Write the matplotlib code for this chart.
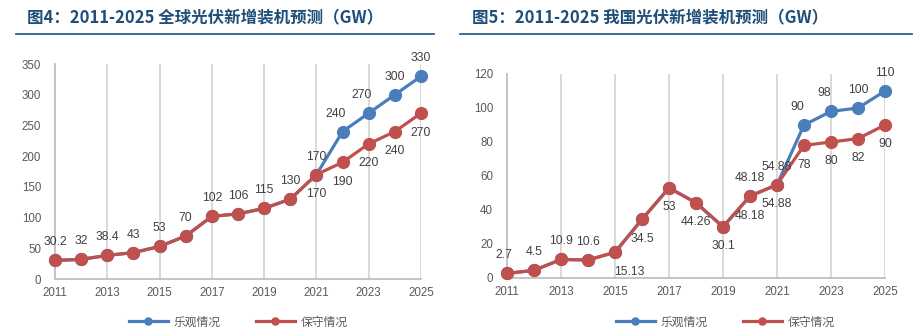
import matplotlib
matplotlib.use("Agg")
import matplotlib.pyplot as plt

plt.rcParams['font.family'] = ['Noto Sans CJK SC', 'DejaVu Sans']

years = list(range(2011, 2026))

# Global new PV installations (GW)
global_conservative = [30.2, 32, 38.4, 43, 53, 70, 102, 106, 115, 130, 170, 190, 220, 240, 270]
global_optimistic = [30.2, 32, 38.4, 43, 53, 70, 102, 106, 115, 130, 170, 240, 270, 300, 330]

# China new PV installations (GW)
china_conservative = [2.7, 4.5, 10.9, 10.6, 15.13, 34.5, 53, 44.26, 30.1, 48.18, 54.88, 78, 80, 82, 90]
china_optimistic = [2.7, 4.5, 10.9, 10.6, 15.13, 34.5, 53, 44.26, 30.1, 48.18, 54.88, 90, 98, 100, 110]

titles = ["图4：2011-2025 全球光伏新增装机预测（GW）",
          "图5：2011-2025 我国光伏新增装机预测（GW）"]
series_names = ["乐观情况", "保守情况"]
x_ticks = list(range(2011, 2026, 2))

BLUE = "#4a7ebb"
RED = "#c0504d"
GRID = "#d9d9d9"
TEXT = "#595959"
LABEL = "#404040"
TITLE = "#1f4e79"
NUM_FONT = "Liberation Sans"

fig = plt.figure(figsize=(9.21, 3.36), dpi=100)
W, H = 921, 336


def px_axes(x0, x1, y_top, y_bot):
    return fig.add_axes([x0 / W, 1 - y_bot / H, (x1 - x0) / W, (y_bot - y_top) / H])


def style_axes(ax, ymax, ystep):
    ax.set_xlim(2011, 2025)
    ax.set_ylim(0, ymax)
    ax.set_xticks(x_ticks)
    ax.set_yticks(range(0, ymax + 1, ystep))
    for g in x_ticks[1:]:
        ax.axvline(g, color=GRID, lw=1.4, zorder=0)
    for s in ["top", "right"]:
        ax.spines[s].set_visible(False)
    for s in ["left", "bottom"]:
        ax.spines[s].set_color("#bfbfbf")
        ax.spines[s].set_linewidth(1.3)
    ax.tick_params(length=0, labelsize=8.3, colors=TEXT, pad=6)
    for t in ax.get_xticklabels() + ax.get_yticklabels():
        t.set_fontfamily(NUM_FONT)
    ax.tick_params(axis="y", pad=10)
    ax.set_facecolor("none")


def fmt(v):
    return f"{v:g}"


def draw_series(ax, opt, con):
    lo, = ax.plot(years, opt, color=BLUE, lw=2.3, marker="o", ms=8.5, zorder=3,
                  clip_on=False, label=series_names[0])
    lc, = ax.plot(years, con, color=RED, lw=2.3, marker="o", ms=8.5, zorder=4,
                  clip_on=False, label=series_names[1])
    return lo, lc


def label(ax, x, y, text, dy, dx=0):
    ax.annotate(text, (x, y), xytext=(dx, dy), textcoords="offset points",
                ha="center", va="center", fontsize=8.7, color=LABEL,
                fontfamily=NUM_FONT, zorder=6)


def legend(ax, handles, x0):
    leg = fig.legend(handles, series_names, loc="center left",
                     bbox_to_anchor=(x0 / W, 1 - 322 / H), ncol=2, frameon=False,
                     fontsize=8.5, handlelength=3.3, columnspacing=3.0,
                     handletextpad=0.5, markerscale=0.6)
    for t in leg.get_texts():
        t.set_color(TEXT)


def header(x_text, x0, x1, text):
    fig.text(x_text / W, 1 - 18 / H, text, fontsize=11.9, fontweight="bold",
             color=TITLE, va="center", ha="left")
    fig.add_artist(plt.Line2D([x0 / W, x1 / W], [1 - 33.5 / H] * 2,
                              color="#2e5e9a", lw=1.3))


# ---- left panel: global ----
ax1 = px_axes(55, 421, 64, 279)
style_axes(ax1, 350, 50)
h1 = draw_series(ax1, global_optimistic, global_conservative)
for i, yr in enumerate(years):
    if yr <= 2020:
        label(ax1, yr, global_conservative[i], fmt(global_conservative[i]), 13)
    else:
        label(ax1, yr, global_conservative[i], fmt(global_conservative[i]), -14)
        label(ax1, yr, global_optimistic[i], fmt(global_optimistic[i]), 13, -5 if yr in (2022, 2023) else 0)
legend(ax1, h1, 118)
header(27, 16, 434, titles[0])

# ---- right panel: China ----
ax2 = px_axes(507, 885, 74, 278)
style_axes(ax2, 120, 20)
h2 = draw_series(ax2, china_optimistic, china_conservative)
for i, yr in enumerate(years):
    v = china_conservative[i]
    if yr <= 2014:
        label(ax2, yr, v, fmt(v), 13, -2 if yr == 2011 else 0)
    elif yr == 2015:
        label(ax2, yr, v, fmt(v), -14, 10)
    else:
        label(ax2, yr, v, fmt(v), -14)
    if yr >= 2020:
        o = china_optimistic[i]
        dx = -5 if yr in (2022, 2023) else 0
        label(ax2, yr, o, fmt(o), 13, dx)
legend(ax2, h2, 605)
header(472, 460, 912, titles[1])

fig.savefig("out.png", dpi=100)
